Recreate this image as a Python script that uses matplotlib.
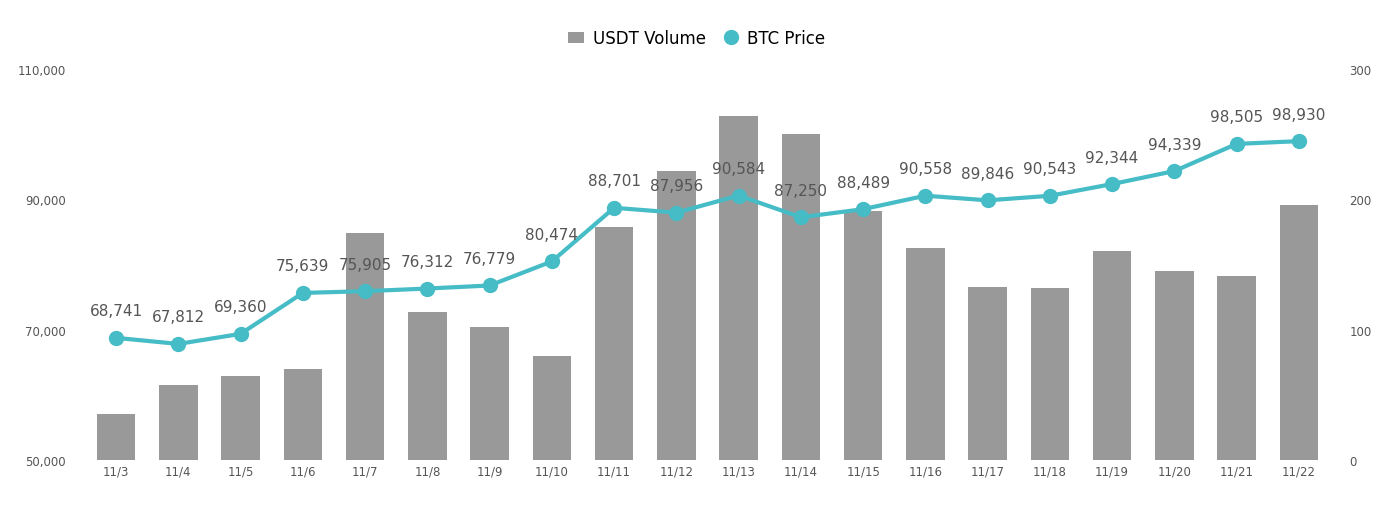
import matplotlib
matplotlib.use("Agg")
import matplotlib.pyplot as plt
from matplotlib.ticker import FuncFormatter

dates = ["11/3", "11/4", "11/5", "11/6", "11/7", "11/8", "11/9", "11/10", "11/11", "11/12",
         "11/13", "11/14", "11/15", "11/16", "11/17", "11/18", "11/19", "11/20", "11/21", "11/22"]
btc_price = [68741, 67812, 69360, 75639, 75905, 76312, 76779, 80474, 88701, 87956,
             90584, 87250, 88489, 90558, 89846, 90543, 92344, 94339, 98505, 98930]
usdt_volume = [35, 57.5, 64.5, 70, 174, 113.5, 102, 80, 179, 222,
               264, 250, 191, 163, 133, 132, 160, 145, 141, 196]

fig = plt.figure(figsize=(13.93, 5.06), dpi=100)
ax = fig.add_axes([85 / 1393, 45 / 506, 1245 / 1393, 391 / 506])
ax2 = ax.twinx()

x = list(range(len(dates)))
ax2.bar(x, usdt_volume, width=0.62, color="#999999", label="USDT Volume", zorder=1)
ax.plot(x, btc_price, color="#45bcc6", lw=3, marker="o", ms=10, label="BTC Price", zorder=3)
for xi, v in zip(x, btc_price):
    ax.annotate(f"{v:,}", (xi, v), xytext=(0, 14), textcoords="offset points",
                ha="center", va="bottom", fontsize=11, color="#555555", zorder=4)

ax.set_zorder(ax2.get_zorder() + 1)
ax.patch.set_visible(False)

ax.set_ylim(50000, 110000)
ax.set_yticks([50000, 70000, 90000, 110000])
ax.yaxis.set_major_formatter(FuncFormatter(lambda v, p: f"{int(v):,}"))
ax2.set_ylim(0, 300)
ax2.set_yticks([0, 100, 200, 300])
ax.set_xlim(-0.5, len(dates) - 0.5)
ax.set_xticks(x)
ax.set_xticklabels(dates)

for a in (ax, ax2):
    for s in a.spines.values():
        s.set_visible(False)
    a.tick_params(length=0, labelsize=8.5, colors="#555555")
ax.tick_params(axis="y", pad=14)
ax2.tick_params(axis="y", pad=14)

h1, l1 = ax2.get_legend_handles_labels()
h2, l2 = ax.get_legend_handles_labels()
leg = fig.legend(h1 + h2, l1 + l2, loc="upper center", bbox_to_anchor=(0.5, 0.97), ncol=2,
                 frameon=False, fontsize=12, handlelength=1, handletextpad=0.5, columnspacing=1)
leg.legend_handles[1].set_linestyle("")

fig.savefig("out.png", dpi=100)
